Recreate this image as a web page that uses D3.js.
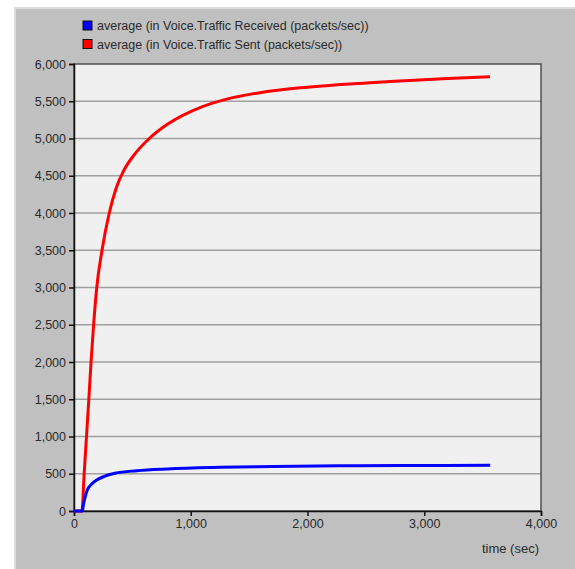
<!DOCTYPE html>
<html>
<head>
<meta charset="utf-8">
<script src="https://cdn.jsdelivr.net/npm/d3@7"></script>
<style>
  body { margin: 0; background: #fff; }
  text { font-family: "Liberation Sans", Arial, sans-serif; }
</style>
</head>
<body>
<div id="chart"></div>
<script>
// data: [time (sec), packets/sec]
var receivedData = [
  [0, 0], [72, 0], [80, 80], [91, 160], [114, 282], [150, 360], [194, 416],
  [260, 465], [351, 506], [537, 541], [800, 565], [1250, 586], [1700, 598],
  [2278, 607], [2800, 610], [3565, 613]
];
var sentData = [
  [0, 0], [68, 0], [87, 500], [107, 1000], [127, 1500], [146, 2000], [168, 2500],
  [195, 3000], [240, 3500], [302, 4000], [360, 4330], [430, 4580], [520, 4790],
  [645, 5000], [800, 5190], [1079, 5415], [1300, 5525], [1593, 5615], [1935, 5680],
  [2500, 5745], [2792, 5772], [3200, 5805], [3563, 5830]
];
var legendLabels = [
  "average (in Voice.Traffic Received (packets/sec))",
  "average (in Voice.Traffic Sent (packets/sec))"
];
var seriesColors = ["#0000ff", "#ff0000"];
var xTicks = [0, 1000, 2000, 3000, 4000];
var yTicks = [0, 500, 1000, 1500, 2000, 2500, 3000, 3500, 4000, 4500, 5000, 5500, 6000];
var xLabel = "time (sec)";

// dimensions
var svgWidth = 575;
var svgHeight = 569;
var plot = { left: 74, top: 64, right: 541, bottom: 511 };

var svg = d3.select("#chart").append("svg")
    .attr("width", svgWidth)
    .attr("height", svgHeight);

// gray panel
svg.append("rect")
    .attr("x", 15).attr("y", 8)
    .attr("width", svgWidth - 14).attr("height", svgHeight - 7)
    .attr("fill", "#c0c0c0")
    .attr("stroke", "#dcdcdc")
    .attr("stroke-width", 2);

// plot background
svg.append("rect")
    .attr("x", plot.left).attr("y", plot.top)
    .attr("width", plot.right - plot.left).attr("height", plot.bottom - plot.top)
    .attr("fill", "#f0f0f0");

// scales
var x = d3.scaleLinear().domain([0, 4000]).range([plot.left, plot.right]);
var y = d3.scaleLinear().domain([0, 6000]).range([plot.bottom, plot.top]);

// grid lines
svg.append("g").selectAll("line")
    .data(yTicks.filter(d => d > 0 && d < 6000))
    .enter().append("line")
    .attr("x1", plot.left).attr("x2", plot.right)
    .attr("y1", d => y(d)).attr("y2", d => y(d))
    .attr("stroke", "#a0a0a0")
    .attr("stroke-width", 1.5);

// frame
svg.append("rect")
    .attr("x", plot.left).attr("y", plot.top)
    .attr("width", plot.right - plot.left).attr("height", plot.bottom - plot.top)
    .attr("fill", "none")
    .attr("stroke", "#505050")
    .attr("stroke-width", 1.5);

// axes
var bottomAxis = d3.axisBottom(x).tickValues(xTicks).tickFormat(d3.format(",")).tickSize(5).tickPadding(3);
var leftAxis = d3.axisLeft(y).tickValues(yTicks).tickFormat(d3.format(",")).tickSize(5).tickPadding(3);

var gx = svg.append("g").attr("transform", `translate(0, ${plot.bottom})`).call(bottomAxis);
var gy = svg.append("g").attr("transform", `translate(${plot.left}, 0)`).call(leftAxis);

[gx, gy].forEach(function (g) {
    g.select(".domain").attr("stroke", "#111").attr("stroke-width", 1.5);
    g.selectAll(".tick line").attr("stroke", "#111").attr("stroke-width", 1.5);
    g.selectAll(".tick text")
        .attr("fill", "#2a2a2a")
        .style("font-size", "12.5px")
        .style("font-family", "'Liberation Sans', Arial, sans-serif");
});

// axis label
svg.append("text")
    .attr("x", 539)
    .attr("y", 553)
    .attr("text-anchor", "end")
    .attr("fill", "#2a2a2a")
    .style("font-size", "13px")
    .text(xLabel);

// lines
var line = d3.line()
    .x(d => x(d[0]))
    .y(d => y(d[1]))
    .curve(d3.curveMonotoneX);

svg.append("path")
    .datum(sentData)
    .attr("d", line)
    .attr("fill", "none")
    .attr("stroke", seriesColors[1])
    .attr("stroke-width", 3);

svg.append("path")
    .datum(receivedData)
    .attr("d", line)
    .attr("fill", "none")
    .attr("stroke", seriesColors[0])
    .attr("stroke-width", 3);

// legend
var legend = svg.append("g").selectAll("g")
    .data(legendLabels)
    .enter().append("g")
    .attr("transform", (d, i) => `translate(83, ${21 + i * 18.5})`);

legend.append("rect")
    .attr("width", 9).attr("height", 9)
    .attr("fill", (d, i) => seriesColors[i])
    .attr("stroke", "#111")
    .attr("stroke-width", 1);

legend.append("text")
    .attr("x", 14)
    .attr("y", 9)
    .attr("fill", "#2a2a2a")
    .style("font-size", "12.5px")
    .text(d => d);
</script>
</body>
</html>
